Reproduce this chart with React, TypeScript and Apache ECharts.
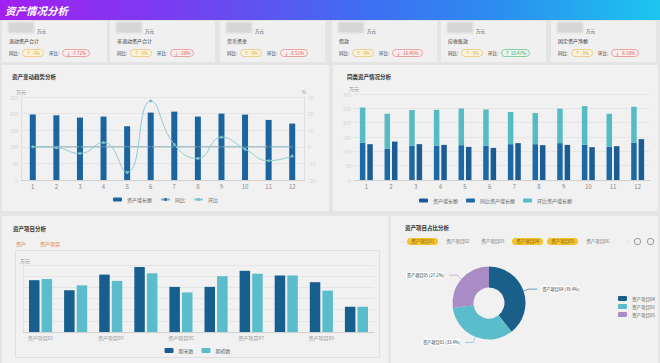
import React, { useEffect, useRef } from 'react';
import * as echarts from 'echarts';

const FONT = '"Noto Sans CJK SC", "Noto Sans", sans-serif';

const cardLabels = ['流动资产合计', '非流动资产合计', '货币资金', '借款', '应收账款', '固定资产净额'];
const cardYoY = ['-3%', '-3%', '-3%', '-3%', '-3%', '-3%'];
const cardMoM = ['-7.72%', '-28%', '-8.51%', '-16.45%', '10.47%', '-8.18%'];
const cardMoMUp = [false, false, false, false, true, false];

const months = ['1', '2', '3', '4', '5', '6', '7', '8', '9', '10', '11', '12'];
const trendGrowth = [197, 195, 188, 191, 162, 203, 206, 191, 200, 197, 181, 170];
const trendYoY = [0, 0, 0, 0, 0, 0, 0, 0, 0, 0, 0, 0];
const trendMoM = [0, -0.5, -4, 2.6, -15.4, 27.6, 1.4, -7, 5.8, -1.4, -8.4, -5.6];

const sameGrowth = [125, 134, 125, 122.5, 115.5, 112, 128.5, 121.5, 122.5, 114.5, 118, 142.5];
const sameYoY = [130.5, 108.5, 119, 119, 121.5, 120, 125, 125, 128.5, 122.5, 115.5, 129.5];
const sameMoM = [122.5, 122.5, 125, 126, 128, 126, 112, 108.5, 120, 135.5, 115.5, 126];

const itemNames = ['资产项目01', '资产项目02', '资产项目03', '资产项目04', '资产项目05', '资产项目06', '资产项目07', '资产项目08', '资产项目09', '资产项目10'];
const itemEnd = [232, 187, 257, 291, 202, 202, 274, 253, 223, 113];
const itemStart = [237, 209, 229, 263, 177, 250, 261, 253, 185, 113];

const pieNames = ['资产项目04', '资产项目01', '资产项目05'];
const pieValues = [39.4, 33.4, 27.2];
const tagNames = ['资产项目01', '资产项目02', '资产项目03', '资产项目04', '资产项目05', '资产项目06'];
const tagSelected = [true, false, false, true, true, false];

function Chart({ option, style }: { option: any; style: React.CSSProperties }) {
  const ref = useRef<HTMLDivElement>(null);
  useEffect(() => {
    const c = echarts.init(ref.current!, null, { renderer: 'svg' });
    c.setOption(option);
    return () => c.dispose();
  }, []);
  return <div ref={ref} style={style} />;
}

const axisLabelLight = { fontSize: 5, color: '#d2d2d2', fontFamily: FONT };
const splitLineStyle = { lineStyle: { color: '#e2e2e2', width: 0.8 } };

const optTrend = {
  animation: false,
  textStyle: { fontFamily: FONT },
  grid: { left: 19, right: 25, top: 32, bottom: 31 },
  legend: {
    top: 127, left: 'center', itemWidth: 9, itemHeight: 4, itemGap: 8,
    textStyle: { fontSize: 5, color: '#666' },
    data: ['资产增长额', '同比', '环比'],
  },
  xAxis: {
    type: 'category', data: months,
    axisLine: { lineStyle: { color: '#cfcfcf' } },
    axisTick: { show: false },
    axisLabel: { fontSize: 6, color: '#888', margin: 3 },
  },
  yAxis: [
    {
      type: 'value', name: '万元', min: 0, max: 250, interval: 50,
      nameTextStyle: { fontSize: 5, color: '#999', padding: [0, 0, -2, 0] }, nameGap: 5,
      axisLabel: { ...axisLabelLight, margin: 3 },
      splitLine: splitLineStyle,
      axisLine: { show: true, lineStyle: { color: '#dedede' } }, axisTick: { show: false },
    },
    {
      type: 'value', name: '%', min: -20, max: 30, interval: 10,
      nameTextStyle: { fontSize: 5, color: '#999', padding: [0, 0, -2, 0] }, nameGap: 5,
      axisLabel: { ...axisLabelLight, margin: 4 },
      splitLine: { show: false },
      axisLine: { show: true, lineStyle: { color: '#dedede' } }, axisTick: { show: false },
    },
  ],
  series: [
    { name: '资产增长额', type: 'bar', data: trendGrowth, barWidth: 6, itemStyle: { color: '#1b649d' } },
    {
      name: '同比', type: 'line', yAxisIndex: 1, data: trendYoY, symbol: 'circle', symbolSize: 3,
      lineStyle: { color: '#86aebb', width: 1 }, itemStyle: { color: '#2b74a6' },
    },
    {
      name: '环比', type: 'line', yAxisIndex: 1, smooth: true, data: trendMoM, symbol: 'circle', symbolSize: 3,
      lineStyle: { color: '#8fcbd2', width: 1 }, itemStyle: { color: '#74bfca' },
    },
  ],
};

const optSame = {
  animation: false,
  textStyle: { fontFamily: FONT },
  grid: { left: 21, right: 8, top: 29, bottom: 31 },
  legend: {
    top: 128, left: 'center', itemWidth: 9, itemHeight: 4, itemGap: 8,
    textStyle: { fontSize: 5, color: '#666' },
    data: ['资产增长额', '同比资产增长额', '环比资产增长额'],
  },
  xAxis: {
    type: 'category', data: months,
    axisLine: { lineStyle: { color: '#cfcfcf' } },
    axisTick: { show: false },
    axisLabel: { fontSize: 6, color: '#888', margin: 3 },
  },
  yAxis: {
    type: 'value', name: '万元', min: 0, max: 300, interval: 50,
    nameTextStyle: { fontSize: 5, color: '#999', padding: [0, 0, -2, 0] }, nameGap: 5,
    axisLabel: { ...axisLabelLight, margin: 3 },
    splitLine: splitLineStyle,
    axisLine: { show: false }, axisTick: { show: false },
  },
  series: [
    { name: '同比资产增长额', type: 'bar', stack: 'a', data: sameYoY, barWidth: 5.5, barGap: '35%', itemStyle: { color: '#1d69a6' } },
    { name: '环比资产增长额', type: 'bar', stack: 'a', data: sameMoM, barWidth: 5.5, barGap: '35%', itemStyle: { color: '#55bcc4' } },
    { name: '资产增长额', type: 'bar', data: sameGrowth, barWidth: 5.5, barGap: '35%', itemStyle: { color: '#1b5c94' } },
  ],
};

const optItems = {
  animation: false,
  textStyle: { fontFamily: FONT },
  grid: { left: 7, right: 5, top: 14, bottom: 25 },
  legend: {
    top: 92, left: 'center', itemWidth: 9, itemHeight: 5, itemGap: 8,
    textStyle: { fontSize: 5, color: '#666' },
  },
  xAxis: {
    type: 'category', data: itemNames,
    axisLine: { lineStyle: { color: '#cfcfcf' } },
    axisTick: { show: false },
    axisLabel: { fontSize: 5, color: '#999', margin: 3, interval: 1 },
  },
  yAxis: {
    type: 'value', name: '万元', min: 0, max: 300, interval: 50,
    nameTextStyle: { fontSize: 5, color: '#999', align: 'left', padding: [0, 0, -3, -3] }, nameGap: 5,
    axisLabel: { show: false },
    splitLine: splitLineStyle,
    axisLine: { show: true, lineStyle: { color: '#e2e2e2' } }, axisTick: { show: false },
  },
  series: [
    { name: '期末数', type: 'bar', data: itemEnd, barWidth: 10.5, barGap: '20%', itemStyle: { color: '#175f8e' } },
    { name: '期初数', type: 'bar', data: itemStart, barWidth: 10.5, barGap: '20%', itemStyle: { color: '#5bbccb' } },
  ],
};

const optPie = {
  animation: false,
  textStyle: { fontFamily: FONT },
  color: ['#1a5f8a', '#5bbccb', '#a98bc6'],
  legend: {
    orient: 'vertical', left: 222, top: 41, itemWidth: 9, itemHeight: 5, itemGap: 3,
    textStyle: { fontSize: 4.5, color: '#666' },
    data: pieNames,
  },
  series: [
    {
      type: 'pie', center: [98, 53], radius: [15.5, 36.5],
      data: pieNames.map((n, i) => ({ name: n, value: pieValues[i] })),
      label: { fontSize: 4.2, formatter: '{b} ({d}%)' },
      labelLine: { length: 6, length2: 8, lineStyle: { width: 0.6 } },
    },
  ],
};

const panel: React.CSSProperties = { position: 'absolute', background: '#f1f1f1' };
const titleStyle: React.CSSProperties = { position: 'absolute', fontSize: 5.5, fontWeight: 'bold', color: '#333', whiteSpace: 'nowrap' };

function Pill({ text, up, kind }: { text: string; up: boolean; kind: 'y' | 'r' | 'g' }) {
  const c = kind === 'y' ? { b: '#ecd08a', bg: '#fbf3dc', t: '#d9a23a' } : kind === 'r' ? { b: '#eba4a4', bg: '#fbeeee', t: '#d9534f' } : { b: '#86cfa6', bg: '#eaf7ef', t: '#2f9e61' };
  return (
    <span style={{ display: 'inline-block', border: `0.7px solid ${c.b}`, background: c.bg, color: c.t, borderRadius: 4, fontSize: 4.5, lineHeight: '6px', padding: '0 3px', whiteSpace: 'nowrap' }}>
      {up ? '↑' : '↓'} {text}
    </span>
  );
}

export default function App() {
  const cardLefts = [2, 110, 220, 332, 441, 551];
  return (
    <div style={{ position: 'fixed', left: 0, top: 0, width: 660, height: 363, background: '#e4e4e4', overflow: 'hidden', fontFamily: FONT }}>
      <div style={{ position: 'absolute', left: 0, top: 0, width: 660, height: 20, background: 'linear-gradient(90deg, #a31ff0 0%, #7a3cf0 25%, #3f6ef2 55%, #2c8cf0 75%, #1cc6ee 100%)' }}>
        <div style={{ position: 'absolute', left: 5, top: 3, fontSize: 10.5, color: '#fff', fontStyle: 'italic', fontWeight: 'bold', whiteSpace: 'nowrap' }}>资产情况分析</div>
      </div>
      {cardLabels.map((lab, i) => (
        <div key={i} style={{ ...panel, left: cardLefts[i], top: 21, width: 105, height: 41, background: '#f0f0f0' }}>
          <div style={{ position: 'absolute', left: 6, top: 1, width: 26, height: 11, background: '#d6d6d6', filter: 'blur(1.2px)' }} />
          <div style={{ position: 'absolute', left: 35, top: 7, fontSize: 4.5, color: '#444', whiteSpace: 'nowrap' }}>万元</div>
          <div style={{ position: 'absolute', left: 7, top: 16, fontSize: 5, color: '#333', whiteSpace: 'nowrap' }}>{lab}</div>
          <div style={{ position: 'absolute', left: 7, top: 28, fontSize: 4.5, color: '#333', whiteSpace: 'nowrap', display: 'flex', alignItems: 'center' }}>
            <span>同比:</span>
            <span style={{ marginLeft: 3 }}><Pill text={cardYoY[i]} up={true} kind="y" /></span>
            <span style={{ marginLeft: 5 }}>环比:</span>
            <span style={{ marginLeft: 3 }}><Pill text={cardMoM[i]} up={cardMoMUp[i]} kind={cardMoMUp[i] ? 'g' : 'r'} /></span>
          </div>
        </div>
      ))}

      <div style={{ ...panel, left: 2, top: 65, width: 327, height: 146 }}>
        <div style={{ ...titleStyle, left: 10, top: 8 }}>资产变动趋势分析</div>
        <Chart option={optTrend} style={{ position: 'absolute', left: 0, top: 0, width: 327, height: 146 }} />
      </div>
      <div style={{ ...panel, left: 333, top: 65, width: 325, height: 146 }}>
        <div style={{ ...titleStyle, left: 14, top: 8 }}>同类资产情况分析</div>
        <Chart option={optSame} style={{ position: 'absolute', left: 0, top: 0, width: 325, height: 146 }} />
      </div>

      <div style={{ ...panel, left: 2, top: 216, width: 386, height: 147 }}>
        <div style={{ ...titleStyle, left: 11, top: 9 }}>资产项目分析</div>
        <div style={{ position: 'absolute', left: 14, top: 24, fontSize: 5, color: '#e8823a', whiteSpace: 'nowrap' }}>资产</div>
        <div style={{ position: 'absolute', left: 38, top: 24, fontSize: 5, color: '#e8823a', whiteSpace: 'nowrap' }}>资产项目</div>
        <div style={{ position: 'absolute', left: 13, top: 34, width: 365, height: 108, border: '0.8px solid #e0e0e0', boxSizing: 'border-box' }}>
          <Chart option={optItems} style={{ position: 'absolute', left: 0, top: 0, width: 363, height: 106 }} />
        </div>
      </div>

      <div style={{ ...panel, left: 391, top: 216, width: 267, height: 147 }}>
        <div style={{ ...titleStyle, left: 14, top: 8 }}>资产项目占比分析</div>
        <div style={{ position: 'absolute', left: 11, top: 21, height: 8, display: 'flex', alignItems: 'center', fontSize: 4.5, whiteSpace: 'nowrap', color: '#777' }}>
          <span style={{ color: '#aaa', marginRight: 4 }}>‹</span>
          {tagNames.map((t, i) => (
            <span key={i} style={{ display: 'inline-block', marginRight: 4, padding: '0 4px', borderRadius: 4, lineHeight: '7px', background: tagSelected[i] ? '#f2c230' : 'transparent', color: tagSelected[i] ? '#8a5d00' : '#777' }}>{t}</span>
          ))}
          <span style={{ color: '#aaa', marginLeft: 10 }}>›</span>
          <span style={{ display: 'inline-block', width: 5, height: 5, borderRadius: 3, border: '0.8px solid #999', marginLeft: 5 }} />
          <span style={{ display: 'inline-block', width: 5, height: 5, borderRadius: 3, border: '0.8px solid #999', marginLeft: 6 }} />
        </div>
        <Chart option={optPie} style={{ position: 'absolute', left: 0, top: 34, width: 267, height: 113 }} />
      </div>
    </div>
  );
}
